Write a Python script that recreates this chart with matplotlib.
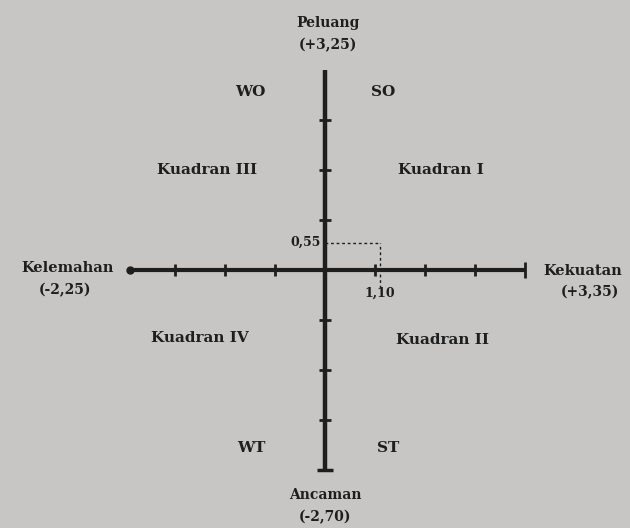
import matplotlib
matplotlib.use("Agg")
import matplotlib.pyplot as plt

# Data
x_axis_range = [-3.9, 4.0]
y_axis_range = [-4.0, 4.0]
x_ticks = [-3, -2, -1, 1, 2, 3]
y_ticks = [-3, -2, -1, 1, 2, 3]
point_x = 1.10
point_y = 0.55
point_x_label = "1,10"
point_y_label = "0,55"
axis_titles = {"top": ("Peluang", "(+3,25)"), "bottom": ("Ancaman", "(-2,70)"),
               "left": ("Kelemahan", "(-2,25)"), "right": ("Kekuatan", "(+3,35)")}
strategy_labels = ["SO", "WO", "WT", "ST"]
quadrant_labels = ["Kuadran I", "Kuadran III", "Kuadran IV", "Kuadran II"]

bg = "#c8c6c4"
ink = "#1e1e1e"
font = dict(family=["DejaVu Serif"], fontweight="bold", color=ink)

fig = plt.figure(figsize=(6.3, 5.28), dpi=100, facecolor=bg)
ax = fig.add_axes([0, 0, 1, 1])
ax.set_facecolor(bg)
ax.set_xlim(-6.5, 6.1)
ax.set_ylim(-5.16, 5.4)
ax.axis("off")

# axes lines
ax.plot(x_axis_range, [0, 0], color=ink, lw=3, solid_capstyle="butt", zorder=3)
ax.plot([0, 0], y_axis_range, color=ink, lw=3.2, solid_capstyle="butt", zorder=3)
# ticks
ax.plot(x_ticks, [0] * len(x_ticks), ls="none", marker="|", ms=8, mew=2, color=ink, zorder=3)
ax.plot([0] * len(y_ticks), y_ticks, ls="none", marker="_", ms=8, mew=2, color=ink, zorder=3)
# end caps
ax.plot([x_axis_range[0]], [0], marker="o", ms=5, color=ink, zorder=3)
ax.plot([x_axis_range[1]], [0], marker="|", ms=12, mew=2, color=ink, zorder=3)
ax.plot([0], [y_axis_range[0]], marker="_", ms=12, mew=2.5, color=ink, zorder=3)

# point with dashed guides
ax.plot([0, point_x], [point_y, point_y], ls=(0, (2, 2)), color=ink, lw=1, zorder=2)
ax.plot([point_x, point_x], [-0.35, point_y], ls=(0, (2, 2)), color=ink, lw=1, zorder=2)
ax.text(-0.08, point_y, point_y_label, ha="right", va="center", fontsize=9, **font)
ax.text(point_x, -0.33, point_x_label, ha="center", va="top", fontsize=9, **font)

# axis titles
t = axis_titles
ax.text(0.06, 4.95, t["top"][0], ha="center", va="center", fontsize=10, **font)
ax.text(0.06, 4.5, t["top"][1], ha="center", va="center", fontsize=10, **font)
ax.text(-5.15, 0.05, t["left"][0], ha="center", va="center", fontsize=10.5, **font)
ax.text(-5.2, -0.4, t["left"][1], ha="center", va="center", fontsize=10, **font)
ax.text(5.15, -0.02, t["right"][0], ha="center", va="center", fontsize=10.5, **font)
ax.text(5.3, -0.45, t["right"][1], ha="center", va="center", fontsize=10, **font)
ax.text(0.0, -4.5, t["bottom"][0], ha="center", va="center", fontsize=10, **font)
ax.text(0.0, -4.95, t["bottom"][1], ha="center", va="center", fontsize=10, **font)

# strategy labels
ax.text(1.16, 3.55, strategy_labels[0], ha="center", va="center", fontsize=11, **font)
ax.text(-1.5, 3.55, strategy_labels[1], ha="center", va="center", fontsize=11, **font)
ax.text(-1.48, -3.56, strategy_labels[2], ha="center", va="center", fontsize=11, **font)
ax.text(1.26, -3.56, strategy_labels[3], ha="center", va="center", fontsize=11, **font)

# quadrant labels
ax.text(2.32, 2.0, quadrant_labels[0], ha="center", va="center", fontsize=11, **font)
ax.text(-2.36, 2.0, quadrant_labels[1], ha="center", va="center", fontsize=11, **font)
ax.text(-2.5, -1.35, quadrant_labels[2], ha="center", va="center", fontsize=11, **font)
ax.text(2.36, -1.4, quadrant_labels[3], ha="center", va="center", fontsize=11, **font)

fig.savefig("out.png", dpi=100, facecolor=bg)
